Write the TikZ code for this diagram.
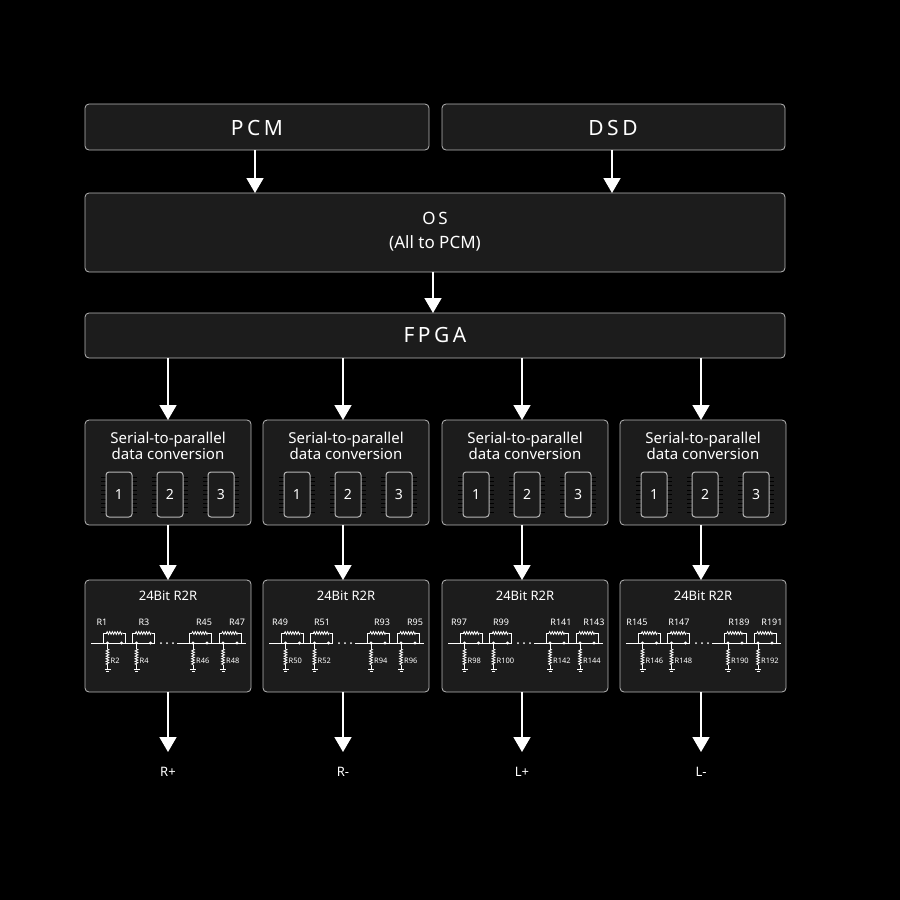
\documentclass[tikz,border=0pt]{standalone}
\usepackage{fontspec}
\setmainfont{Noto Sans}
\usetikzlibrary{arrows.meta,decorations.pathmorphing}
\definecolor{boxfill}{HTML}{1C1C1C}
\definecolor{boxline}{HTML}{B8B8B8}
\definecolor{pin}{HTML}{D0303A}
\begin{document}
\begin{tikzpicture}[x=1pt,y=-1pt,
  box/.style={draw=boxline,line width=0.8pt,fill=boxfill,rounded corners=4pt},
  arr/.style={draw=white,line width=1.6pt,-{Triangle[width=17pt,length=15pt]}},
  big/.style={text=white,font=\fontsize{21}{24}\selectfont},
  mid/.style={text=white,font=\fontsize{15}{18}\selectfont,align=center},
  res/.style={white,line width=0.8pt},
  zz/.style={decorate,decoration={zigzag,segment length=2.6pt,amplitude=1.4pt}},
  rl/.style={text=white,font=\fontsize{9}{10}\selectfont,inner sep=0pt},
  rs/.style={text=white,font=\fontsize{7.5}{9}\selectfont,inner sep=0pt}]
\fill[black] (0,0) rectangle (900,900);
\path[box] (85,104) rectangle (429,150); \node[big] (pcm) at (257,128) {P\,C\,M};
\path[box] (442,104) rectangle (785,150); \node[big] (dsd) at (613,128) {D\,S\,D};
\path[box] (85,193) rectangle (785,272);
\node[mid,font=\fontsize{17}{24}\selectfont] (os) at (435,232) {O\,S\\(All to PCM)};
\path[box] (85,313) rectangle (785,358); \node[big] (fpga) at (435,335) {F\,P\,G\,A};
\coordinate (a1) at (255,150); \coordinate (b1) at (255,193);
\coordinate (a2) at (612,150); \coordinate (b2) at (612,193);
\coordinate (a3) at (433,272); \coordinate (b3) at (433,313);
\draw[arr] (a1)--(b1); \draw[arr] (a2)--(b2); \draw[arr] (a3)--(b3);
\foreach \k/\L/\cx/\lab in {0/85/168/R+,1/263/343/R-,2/442/522/L+,3/620/701/L-}{
  \path[box] (\L,420) rectangle ({\L+166},525);
  \node[mid] (sp\k) at ({\L+83},446) {Serial-to-parallel\\[-2pt]data conversion};
  \foreach \c/\n in {34/1,85/2,136/3}{
    \foreach \i in {0,...,8}{
      \draw[pin,line width=0.8pt] ({\L+\c-18},{477+\i*4.4})--({\L+\c-13},{477+\i*4.4});
      \draw[pin,line width=0.8pt] ({\L+\c+13},{477+\i*4.4})--({\L+\c+18},{477+\i*4.4});
    }
    \draw[boxline,line width=1pt,rounded corners=3pt,fill=boxfill] ({\L+\c-13},472) rectangle ({\L+\c+13},517);
    \node[text=white,font=\fontsize{14}{16}\selectfont] at ({\L+\c},494) {\n};
  }
  \path[box] (\L,580) rectangle ({\L+166},692);
  \node[text=white,font=\fontsize{13}{16}\selectfont] (r2r\k) at ({\L+83},596) {24Bit R2R};
  \draw[res] ({\L+6},643)--({\L+70},643);
  \draw[res] ({\L+92},643)--({\L+161},643);
  \foreach \d in {0,1,2}{\fill[white] ({\L+76+\d*6},643) circle (1pt);}
  \pgfmathtruncatemacro{\base}{48*\k}
  \foreach \o/\lo/\m in {29.5/17/1,58.5/59/3,115/119/45,145/152/47}{
    \pgfmathtruncatemacro{\ra}{\base+\m}
    \pgfmathtruncatemacro{\rb}{\base+\m+1}
    \draw[res] ({\L+\o-11},643)--({\L+\o-11},633)--({\L+\o-8},633);
    \draw[res,zz] ({\L+\o-8},633)--({\L+\o+8},633);
    \draw[res] ({\L+\o+8},633)--({\L+\o+11},633)--({\L+\o+11},643);
    \fill[white] ({\L+\o-7},643) circle (1.6pt) ({\L+\o+7},643) circle (1.6pt);
    \node[rl] at ({\L+\lo},622) {R\ra};
    \draw[res] ({\L+\o-7},643)--({\L+\o-7},649);
    \draw[res,zz] ({\L+\o-7},649)--({\L+\o-7},665);
    \draw[res] ({\L+\o-7},665)--({\L+\o-7},669);
    \draw[res] ({\L+\o-10},669)--({\L+\o-4},669) ({\L+\o-8.5},671)--({\L+\o-5.5},671);
    \node[rs,anchor=west] at ({\L+\o-4},661) {R\rb};
  }
  \coordinate (s\k) at (\cx,358); \coordinate (t\k) at (\cx,420);
  \coordinate (u\k) at (\cx,525); \coordinate (v\k) at (\cx,580);
  \coordinate (w\k) at (\cx,692); \coordinate (x\k) at (\cx,752);
  \draw[arr] (s\k)--(t\k); \draw[arr] (u\k)--(v\k); \draw[arr] (w\k)--(x\k);
  \node[text=white,font=\fontsize{13}{16}\selectfont] (o\k) at (\cx,772) {\lab};
}
\end{tikzpicture}
\end{document}
